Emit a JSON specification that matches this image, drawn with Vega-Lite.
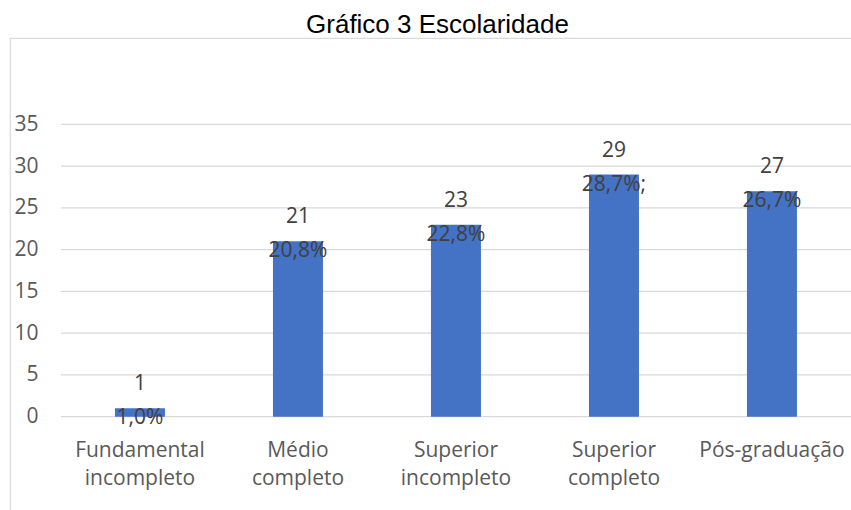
{
  "$schema": "https://vega.github.io/schema/vega-lite/v6.json",
  "autosize": {"type": "none"},
  "padding": {"left": 10, "top": 38, "right": 0, "bottom": 0},
  "width": 851,
  "height": 478.9,
  "title": {
    "text": "Gráfico 3 Escolaridade",
    "font": "Liberation Sans",
    "fontSize": 26,
    "fontWeight": "normal",
    "color": "#000000",
    "anchor": "middle",
    "baseline": "alphabetic",
    "offset": 5,
    "dy": 26,
    "dx": 2
  },
  "config": {
    "view": {"stroke": "#d9d9d9", "strokeWidth": 1.2},
    "axis": {
      "labelFont": "Open Sans",
      "labelFontSize": 21,
      "labelColor": "#595959",
      "ticks": false,
      "domain": false,
      "grid": false,
      "title": null
    }
  },
  "datasets": {
    "grid": [{"g": 0}, {"g": 5}, {"g": 10}, {"g": 15}, {"g": 20}, {"g": 25}, {"g": 30}, {"g": 35}]
  },
  "data": {
    "values": [
      {"nivel": "Fundamental incompleto", "n": 1, "pct": "1,0%"},
      {"nivel": "Médio completo", "n": 21, "pct": "20,8%"},
      {"nivel": "Superior incompleto", "n": 23, "pct": "22,8%"},
      {"nivel": "Superior completo", "n": 29, "pct": "28,7%;"},
      {"nivel": "Pós-graduação", "n": 27, "pct": "26,7%"}
    ]
  },
  "encoding": {
    "x": {
      "field": "nivel",
      "type": "nominal",
      "sort": null,
      "scale": {"paddingInner": 0.6835, "paddingOuter": 0.5348, "align": 0.621},
      "axis": {
        "orient": "bottom",
        "offset": -100,
        "labelAngle": 0,
        "labelExpr": "split(datum.label, ' ')",
        "labelBaseline": "alphabetic",
        "labelPadding": 40,
        "labelLineHeight": 28
      }
    },
    "y": {
      "field": "n",
      "type": "quantitative",
      "scale": {"domain": [-12, 45.35], "nice": false, "zero": false},
      "axis": {"orient": "left", "offset": -30, "labelPadding": 2, "values": [0, 5, 10, 15, 20, 25, 30, 35]}
    }
  },
  "layer": [
    {
      "data": {"name": "grid"},
      "mark": {"type": "rule", "color": "#d9d9d9", "strokeWidth": 1.3},
      "encoding": {
        "x": {"datum": "Fundamental incompleto", "type": "nominal", "bandPosition": -1.08},
        "x2": {"value": "width"},
        "y": {"field": "g", "type": "quantitative"}
      }
    },
    {
      "mark": {"type": "bar", "color": "#4472C4"},
      "encoding": {"y2": {"datum": 0}}
    },
    {
      "mark": {"type": "text", "font": "Open Sans", "fontSize": 21, "color": "#404040", "baseline": "middle", "dy": -24},
      "encoding": {"text": {"field": "n", "type": "quantitative"}}
    },
    {
      "mark": {"type": "text", "font": "Open Sans", "fontSize": 21, "color": "#404040", "baseline": "middle", "dy": 10},
      "encoding": {"text": {"field": "pct", "type": "nominal"}}
    }
  ]
}
